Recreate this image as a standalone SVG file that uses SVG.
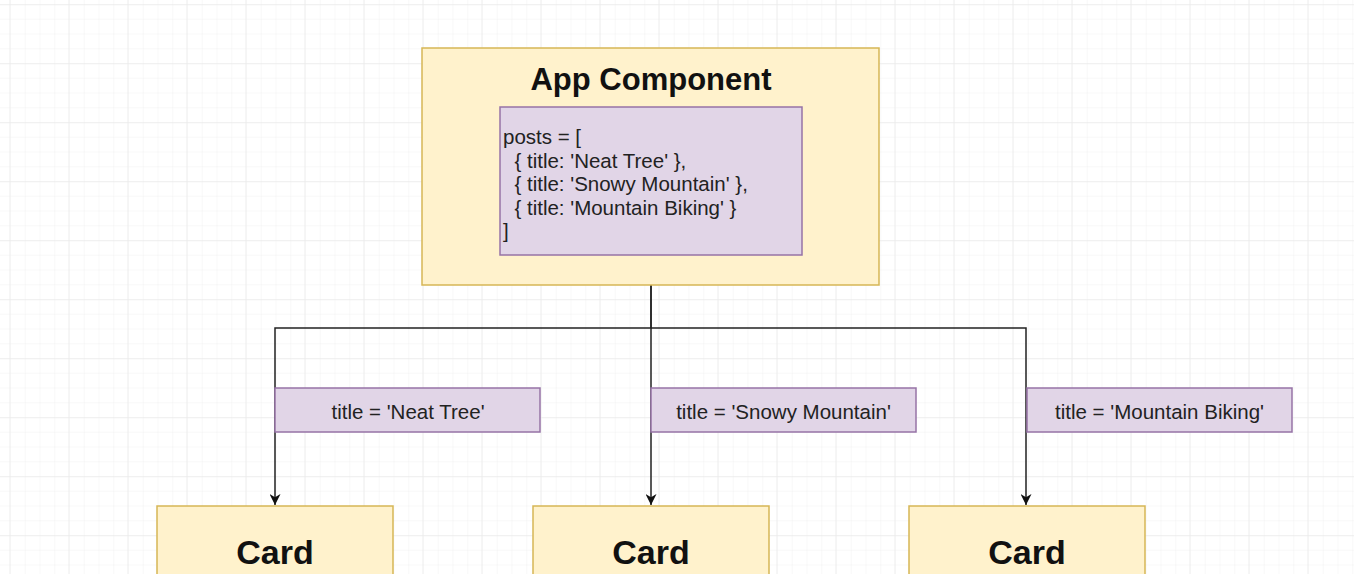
<svg xmlns="http://www.w3.org/2000/svg" width="1354" height="574" viewBox="0 0 1354 574">
<defs>
<pattern id="minor" x="10" y="4" width="14.75" height="14.75" patternUnits="userSpaceOnUse">
<path d="M0 0H14.75M0 0V14.75" fill="none" stroke="#f1f1f1" stroke-width="1"/>
</pattern>
<pattern id="major" x="9.3" y="4.3" width="59" height="59" patternUnits="userSpaceOnUse">
<path d="M0 0H59M0 0V59" fill="none" stroke="#e6e6e6" stroke-width="1"/>
</pattern>
<marker id="arr" viewBox="0 0 10 10" refX="10" refY="5" markerWidth="11" markerHeight="11" markerUnits="userSpaceOnUse" orient="auto">
<path d="M0 0L10 5L0 10L3 5Z" fill="#111"/>
</marker>
</defs>
<style>
.comp{fill:#fff2cc;stroke:#d6b656;stroke-width:1.5}
.prop{fill:#e1d5e7;stroke:#9673a6;stroke-width:1.5}
.title{font-family:"Liberation Sans",Arial,sans-serif;font-weight:bold;fill:#111;text-anchor:middle}
.lbl{font-family:"Liberation Sans",Arial,sans-serif;font-size:20.5px;fill:#222;text-anchor:middle}
.code{font-family:"Liberation Sans",Arial,sans-serif;font-size:20.5px;fill:#222}
.edge{fill:none;stroke:#222;stroke-width:1.5}
</style>
<rect width="1354" height="574" fill="#ffffff"/>
<rect width="1354" height="574" fill="url(#minor)"/>
<rect width="1354" height="574" fill="url(#major)"/>

<g id="connectors">
<path class="edge" d="M651 285V328H275V505" marker-end="url(#arr)"/>
<path class="edge" d="M651 285V505" marker-end="url(#arr)"/>
<path class="edge" d="M651 328H1026V505" marker-end="url(#arr)"/>
</g>

<g id="app">
<rect class="comp" x="422" y="48" width="457" height="237"/>
<text class="title" x="651" y="90" font-size="31">App Component</text>
<rect class="prop" x="500" y="107" width="302" height="148"/>
<text class="code" x="503" y="144" xml:space="preserve">posts = [</text>
<text class="code" x="503" y="167.5" xml:space="preserve">  { title: 'Neat Tree' },</text>
<text class="code" x="503" y="191" xml:space="preserve">  { title: 'Snowy Mountain' },</text>
<text class="code" x="503" y="214.5" xml:space="preserve">  { title: 'Mountain Biking' }</text>
<text class="code" x="503" y="238">]</text>
</g>

<g id="label1">
<rect class="prop" x="275" y="388" width="265" height="44"/>
<text class="lbl" x="408" y="419">title = 'Neat Tree'</text>
</g>
<g id="label2">
<rect class="prop" x="651" y="388" width="265" height="44"/>
<text class="lbl" x="783.5" y="419">title = 'Snowy Mountain'</text>
</g>
<g id="label3">
<rect class="prop" x="1027" y="388" width="265" height="44"/>
<text class="lbl" x="1159.5" y="419">title = 'Mountain Biking'</text>
</g>

<g id="card1">
<rect class="comp" x="157" y="506" width="236" height="80"/>
<text class="title" x="275" y="564" font-size="34">Card</text>
</g>
<g id="card2">
<rect class="comp" x="533" y="506" width="236" height="80"/>
<text class="title" x="651" y="564" font-size="34">Card</text>
</g>
<g id="card3">
<rect class="comp" x="909" y="506" width="236" height="80"/>
<text class="title" x="1027" y="564" font-size="34">Card</text>
</g>
</svg>
